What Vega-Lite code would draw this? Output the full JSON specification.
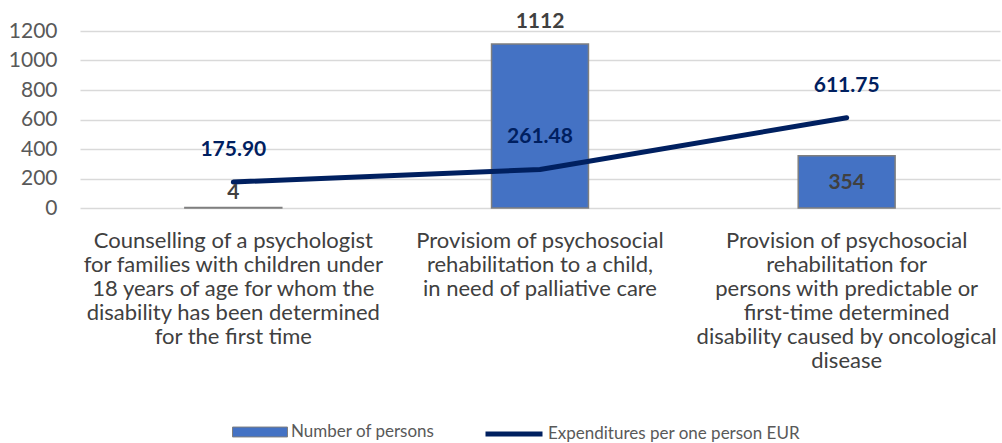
{
  "$schema": "https://vega.github.io/schema/vega-lite/v6.json",
  "autosize": {"type": "none"},
  "width": 920,
  "height": 177,
  "padding": {"left": 80, "top": 31, "right": 2, "bottom": 235},
  "background": "white",
  "config": {
    "view": {"stroke": null},
    "font": "Lato",
    "axis": {"labelFont": "Lato", "titleFont": "Lato"},
    "legend": {"labelFont": "Lato"}
  },
  "data": {
    "values": [
      {"service": "Counselling of a psychologist|for families with children under|18 years of age for whom the|disability has been determined|for the first time", "persons": 4, "expenditure": 175.90},
      {"service": "Provisiom of psychosocial|rehabilitation to a child,|in need of palliative care", "persons": 1112, "expenditure": 261.48},
      {"service": "Provision of psychosocial|rehabilitation for|persons with predictable or|first-time determined|disability caused by oncological|disease", "persons": 354, "expenditure": 611.75}
    ]
  },
  "encoding": {
    "x": {
      "field": "service", "type": "nominal", "sort": null, "title": null,
      "scale": {"paddingInner": 0, "paddingOuter": 0},
      "axis": {
        "labelExpr": "split(datum.label, '|')",
        "labelAngle": 0, "labelFontSize": 22, "labelColor": "#404040",
        "labelLineHeight": 24, "labelPadding": 22, "labelLimit": 400,
        "domain": false, "ticks": false, "grid": false
      }
    }
  },
  "layer": [
    {
      "mark": {"type": "bar", "width": {"band": 0.316}, "stroke": "#7f7f7f", "strokeWidth": 1.5},
      "encoding": {
        "y": {
          "field": "persons", "type": "quantitative", "title": null,
          "scale": {"domain": [0, 1200]},
          "axis": {
            "values": [0, 200, 400, 600, 800, 1000, 1200], "format": "d",
            "labelOverlap": false, "tickCount": 7,
            "labelFontSize": 21, "labelColor": "#595959", "labelPadding": 23,
            "domain": false, "ticks": false,
            "gridColor": "#d9d9d9", "gridWidth": 1.5
          }
        },
        "fill": {
          "datum": "Number of persons",
          "scale": {"range": ["#4472C4"]},
          "legend": {
            "title": null, "orient": "none", "legendX": 152, "legendY": 373,
            "padding": 0,
            "symbolType": "M-1,-0.18H1V0.18H-1Z", "symbolSize": 3025,
            "symbolStrokeColor": "#7f7f7f", "symbolStrokeWidth": 1,
            "symbolFillColor": "#4472C4",
            "labelFontSize": 17, "labelColor": "#595959", "labelOffset": 3, "labelLimit": 400
          }
        }
      }
    },
    {
      "mark": {"type": "line", "strokeWidth": 5, "strokeCap": "round", "strokeJoin": "round"},
      "encoding": {
        "y": {
          "field": "expenditure", "type": "quantitative", "title": null,
          "axis": {
            "values": [0, 200, 400, 600, 800, 1000, 1200], "format": "d",
            "labelOverlap": false, "tickCount": 7,
            "labelFontSize": 21, "labelColor": "#595959", "labelPadding": 23,
            "domain": false, "ticks": false,
            "gridColor": "#d9d9d9", "gridWidth": 1.5
          }
        },
        "stroke": {
          "datum": "Expenditures per one person EUR",
          "scale": {"range": ["#002060"]},
          "legend": {
            "title": null, "orient": "none", "legendX": 403, "legendY": 372,
            "padding": 0,
            "symbolType": "stroke", "symbolSize": 3249, "symbolStrokeWidth": 5,
            "labelFontSize": 17, "labelColor": "#595959", "labelOffset": 3, "labelLimit": 400
          }
        }
      }
    },
    {
      "mark": {"type": "text", "fontSize": 21, "fontWeight": "bold", "color": "#002060", "baseline": "middle", "dy": -32},
      "encoding": {
        "y": {"field": "expenditure", "type": "quantitative"},
        "text": {"field": "expenditure", "type": "quantitative", "format": ".2f"}
      }
    },
    {
      "transform": [{"filter": "datum.persons == 4"}],
      "mark": {"type": "text", "fontSize": 21, "fontWeight": "bold", "color": "#404040", "baseline": "middle", "dy": -14},
      "encoding": {
        "y": {"field": "persons", "type": "quantitative"},
        "text": {"field": "persons", "type": "quantitative", "format": "d"}
      }
    },
    {
      "transform": [{"filter": "datum.persons == 1112"}],
      "mark": {"type": "text", "fontSize": 21, "fontWeight": "bold", "color": "#404040", "baseline": "middle", "dy": -22},
      "encoding": {
        "y": {"field": "persons", "type": "quantitative"},
        "text": {"field": "persons", "type": "quantitative", "format": "d"}
      }
    },
    {
      "transform": [{"filter": "datum.persons == 354"}],
      "mark": {"type": "text", "fontSize": 21, "fontWeight": "bold", "color": "#404040", "baseline": "middle", "dy": 27},
      "encoding": {
        "y": {"field": "persons", "type": "quantitative"},
        "text": {"field": "persons", "type": "quantitative", "format": "d"}
      }
    }
  ]
}
